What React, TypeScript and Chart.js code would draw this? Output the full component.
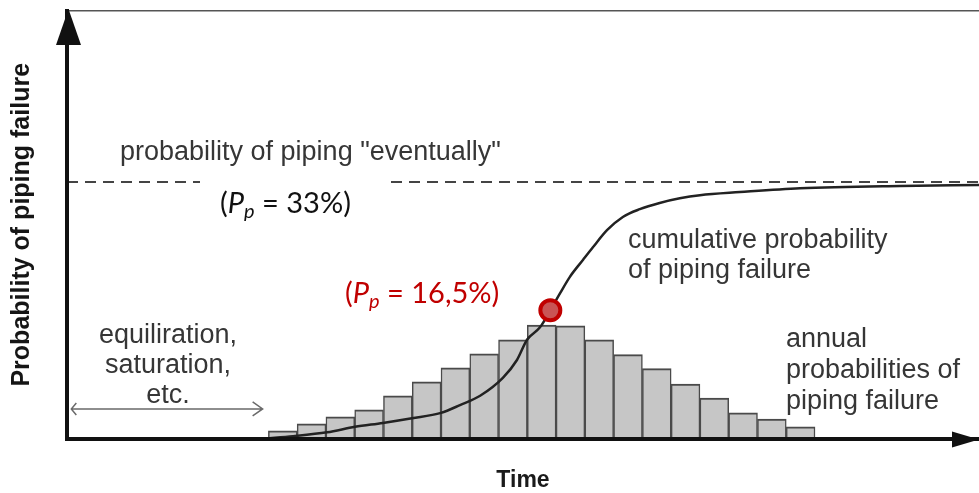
import React, { useEffect, useRef } from 'react';
import { Chart, registerables } from 'chart.js';

Chart.register(...registerables);

// Time axis (one unit = one year of the annual histogram)
const timeMin = 0;
const timeMax = 31.7;

// Annual probabilities of piping failure, one bar per year
const annualYears = [7.5, 8.5, 9.5, 10.5, 11.5, 12.5, 13.5, 14.5, 15.5, 16.5, 17.5, 18.5, 19.5, 20.5, 21.5, 22.5, 23.5, 24.5, 25.5];
const annualValues = [1.0, 1.9, 2.8, 3.7, 5.5, 7.3, 9.1, 10.9, 12.7, 14.6, 14.5, 12.7, 10.8, 9.0, 7.0, 5.2, 3.3, 2.5, 1.5];

// Cumulative probability of piping failure (%)
const cumulativeYears = [6.9, 7.86, 9.04, 10.01, 10.98, 11.99, 13.0, 13.66, 14.36, 15.15, 15.64, 15.99, 16.44, 16.8, 17.14, 17.48, 17.94, 18.28, 18.77, 19.32, 19.91, 20.6, 21.3, 22.0, 23.39, 25.48, 28.95, 31.7];
const cumulativeValues = [0.0, 0.3, 0.8, 1.5, 2.0, 2.6, 3.3, 4.3, 5.5, 7.8, 10.1, 12.7, 14.3, 16.5, 18.7, 20.8, 23.0, 24.6, 26.8, 28.5, 29.5, 30.3, 30.9, 31.3, 31.7, 32.2, 32.5, 32.6];

// Probability of piping "eventually" and the highlighted intermediate value
const eventualProbability = 33;
const markerYear = 16.8;
const markerProbability = 16.5;

const sansFamily = "'Liberation Sans', Arial, Helvetica, sans-serif";
const labelFamily = "Lato, 'Open Sans', sans-serif";

const fmtPct = (v: number) => `${String(v).replace('.', ',')}%`;

function drawPpLabel(ctx: CanvasRenderingContext2D, x: number, baseline: number, value: number, color: string, size: number) {
  ctx.save();
  ctx.fillStyle = color;
  ctx.textAlign = 'left';
  ctx.textBaseline = 'alphabetic';
  const upright = `${size}px ${labelFamily}`;
  const italic = `italic ${size}px ${labelFamily}`;
  const sub = `italic ${Math.round(size * 0.68)}px ${labelFamily}`;
  let cx = x;
  ctx.font = upright;
  ctx.fillText('(', cx, baseline);
  cx += ctx.measureText('(').width;
  ctx.font = italic;
  ctx.fillText('P', cx, baseline);
  cx += ctx.measureText('P').width;
  ctx.font = sub;
  ctx.fillText('p', cx, baseline + size * 0.18);
  cx += ctx.measureText('p').width;
  ctx.font = upright;
  ctx.fillText(` = ${fmtPct(value)})`, cx, baseline);
  ctx.restore();
}

function drawLines(ctx: CanvasRenderingContext2D, lines: string[], x: number, firstBaseline: number, step: number, align: CanvasTextAlign) {
  ctx.textAlign = align;
  lines.forEach((line, i) => ctx.fillText(line, x, firstBaseline + i * step));
}

const diagramOverlay = {
  id: 'diagramOverlay',
  afterDatasetsDraw(chart: Chart) {
    const ctx = chart.ctx;
    ctx.save();
    ctx.fillStyle = '#ffffff';
    ctx.fillRect(200, 173, 187, 66);
    ctx.fillRect(324, 260, 203, 72);
    ctx.restore();
  },
  afterDraw(chart: Chart) {
    const ctx = chart.ctx;
    const area = chart.chartArea;

    // axis arrowheads
    ctx.save();
    ctx.fillStyle = '#111';
    ctx.beginPath();
    ctx.moveTo(area.left + 1.5, area.top - 2);
    ctx.lineTo(area.left - 11, area.top + 34);
    ctx.lineTo(area.left + 14, area.top + 34);
    ctx.closePath();
    ctx.fill();
    ctx.beginPath();
    ctx.moveTo(area.right, area.bottom + 1);
    ctx.lineTo(area.right - 27, area.bottom - 7);
    ctx.lineTo(area.right - 27, area.bottom + 9);
    ctx.closePath();
    ctx.fill();
    ctx.restore();

    // warm-up period arrow
    const xs = chart.scales.x;
    const ys = chart.scales.y;
    const ay = ys.getPixelForValue(3.8);
    const ax0 = xs.getPixelForValue(0.15);
    const ax1 = xs.getPixelForValue(6.8);
    ctx.save();
    ctx.strokeStyle = '#6a6a6a';
    ctx.lineWidth = 1.5;
    ctx.beginPath();
    ctx.moveTo(ax0, ay);
    ctx.lineTo(ax1, ay);
    ctx.moveTo(ax1 - 10, ay - 7);
    ctx.lineTo(ax1, ay);
    ctx.lineTo(ax1 - 10, ay + 7);
    ctx.moveTo(ax0 + 5, ay - 6);
    ctx.lineTo(ax0, ay);
    ctx.lineTo(ax0 + 5, ay + 6);
    ctx.stroke();
    ctx.restore();

    // descriptive labels
    ctx.save();
    ctx.fillStyle = '#363636';
    ctx.textBaseline = 'alphabetic';
    ctx.font = `27px ${sansFamily}`;
    drawLines(ctx, ['probability of piping "eventually"'], 120, 160, 0, 'left');
    drawLines(ctx, ['cumulative probability', 'of piping failure'], 628, 248, 30, 'left');
    drawLines(ctx, ['annual', 'probabilities of', 'piping failure'], 786, 347, 31, 'left');
    drawLines(ctx, ['equiliration,', 'saturation,', 'etc.'], 168, 343, 30, 'center');
    ctx.restore();

    drawPpLabel(ctx, 220, 213, eventualProbability, '#111111', 29);
    drawPpLabel(ctx, 345, 303, markerProbability, '#c00000', 29);
  },
};

export default function App() {
  const canvasRef = useRef<HTMLCanvasElement>(null);

  useEffect(() => {
    const canvas = canvasRef.current;
    if (!canvas) return;

    const chart = new Chart(canvas, {
      type: 'bar',
      data: {
        datasets: [
          {
            type: 'line',
            label: 'Pp',
            data: [{ x: markerYear, y: markerProbability }],
            showLine: false,
            pointRadius: 10,
            pointBorderWidth: 4,
            pointBackgroundColor: '#c95555',
            pointBorderColor: '#c00000',
            order: 0,
          },
          {
            type: 'line',
            label: 'cumulative probability of piping failure',
            data: cumulativeYears.map((t, i) => ({ x: t, y: cumulativeValues[i] })),
            borderColor: '#222222',
            borderWidth: 2.5,
            pointRadius: 0,
            cubicInterpolationMode: 'monotone',
            fill: false,
            order: 1,
          },
          {
            type: 'line',
            label: 'probability of piping "eventually"',
            data: [
              { x: timeMin, y: eventualProbability },
              { x: timeMax, y: eventualProbability },
            ],
            borderColor: '#444444',
            borderWidth: 2,
            borderDash: [11, 7],
            pointRadius: 0,
            fill: false,
            order: 2,
          },
          {
            type: 'bar',
            label: 'annual probabilities of piping failure',
            data: annualYears.map((t, i) => ({ x: t, y: annualValues[i] })),
            backgroundColor: '#c6c6c6',
            borderColor: '#4a4a4a',
            borderWidth: { top: 2, left: 1.5, right: 1.5, bottom: 0 },
            barPercentage: 1,
            categoryPercentage: 1,
            order: 3,
          },
        ],
      } as any,
      options: {
        responsive: false,
        animation: false,
        events: [],
        layout: { autoPadding: false, padding: { top: 11, right: 0, bottom: 0, left: 0 } },
        plugins: {
          legend: { display: false },
          tooltip: { enabled: false },
        },
        scales: {
          x: {
            type: 'linear',
            min: timeMin,
            max: timeMax,
            offset: false,
            grid: { display: false, drawTicks: false },
            border: { display: true, color: '#111111', width: 4, z: 1 },
            ticks: { display: false, stepSize: 1, includeBounds: false },
            title: {
              display: true,
              text: 'Time',
              color: '#1a1a1a',
              font: { family: sansFamily, size: 23, weight: 'bold', lineHeight: 1 },
              padding: { top: 31, bottom: 0.5 },
            },
          },
          xTop: {
            type: 'linear',
            position: 'top',
            min: timeMin,
            max: timeMax,
            offset: false,
            grid: { display: false, drawTicks: false },
            border: { display: true, color: '#555555', width: 1.5 },
            ticks: { display: false },
          },
          y: {
            type: 'linear',
            min: 0,
            max: 55,
            grid: { display: false, drawTicks: false },
            border: { display: true, color: '#111111', width: 4, z: 1 },
            ticks: { display: false },
            title: {
              display: true,
              text: 'Probability of piping failure',
              color: '#151515',
              font: { family: sansFamily, size: 25, weight: 'bold', lineHeight: 1 },
              padding: { top: 10, bottom: 32 },
            },
          },
        },
      } as any,
      plugins: [diagramOverlay],
    });

    return () => chart.destroy();
  }, []);

  return (
    <div style={{ position: 'absolute', left: 0, top: 0, width: 979, height: 493, background: '#ffffff' }}>
      <canvas ref={canvasRef} width={979} height={493} style={{ display: 'block', width: 979, height: 493 }} />
    </div>
  );
}
